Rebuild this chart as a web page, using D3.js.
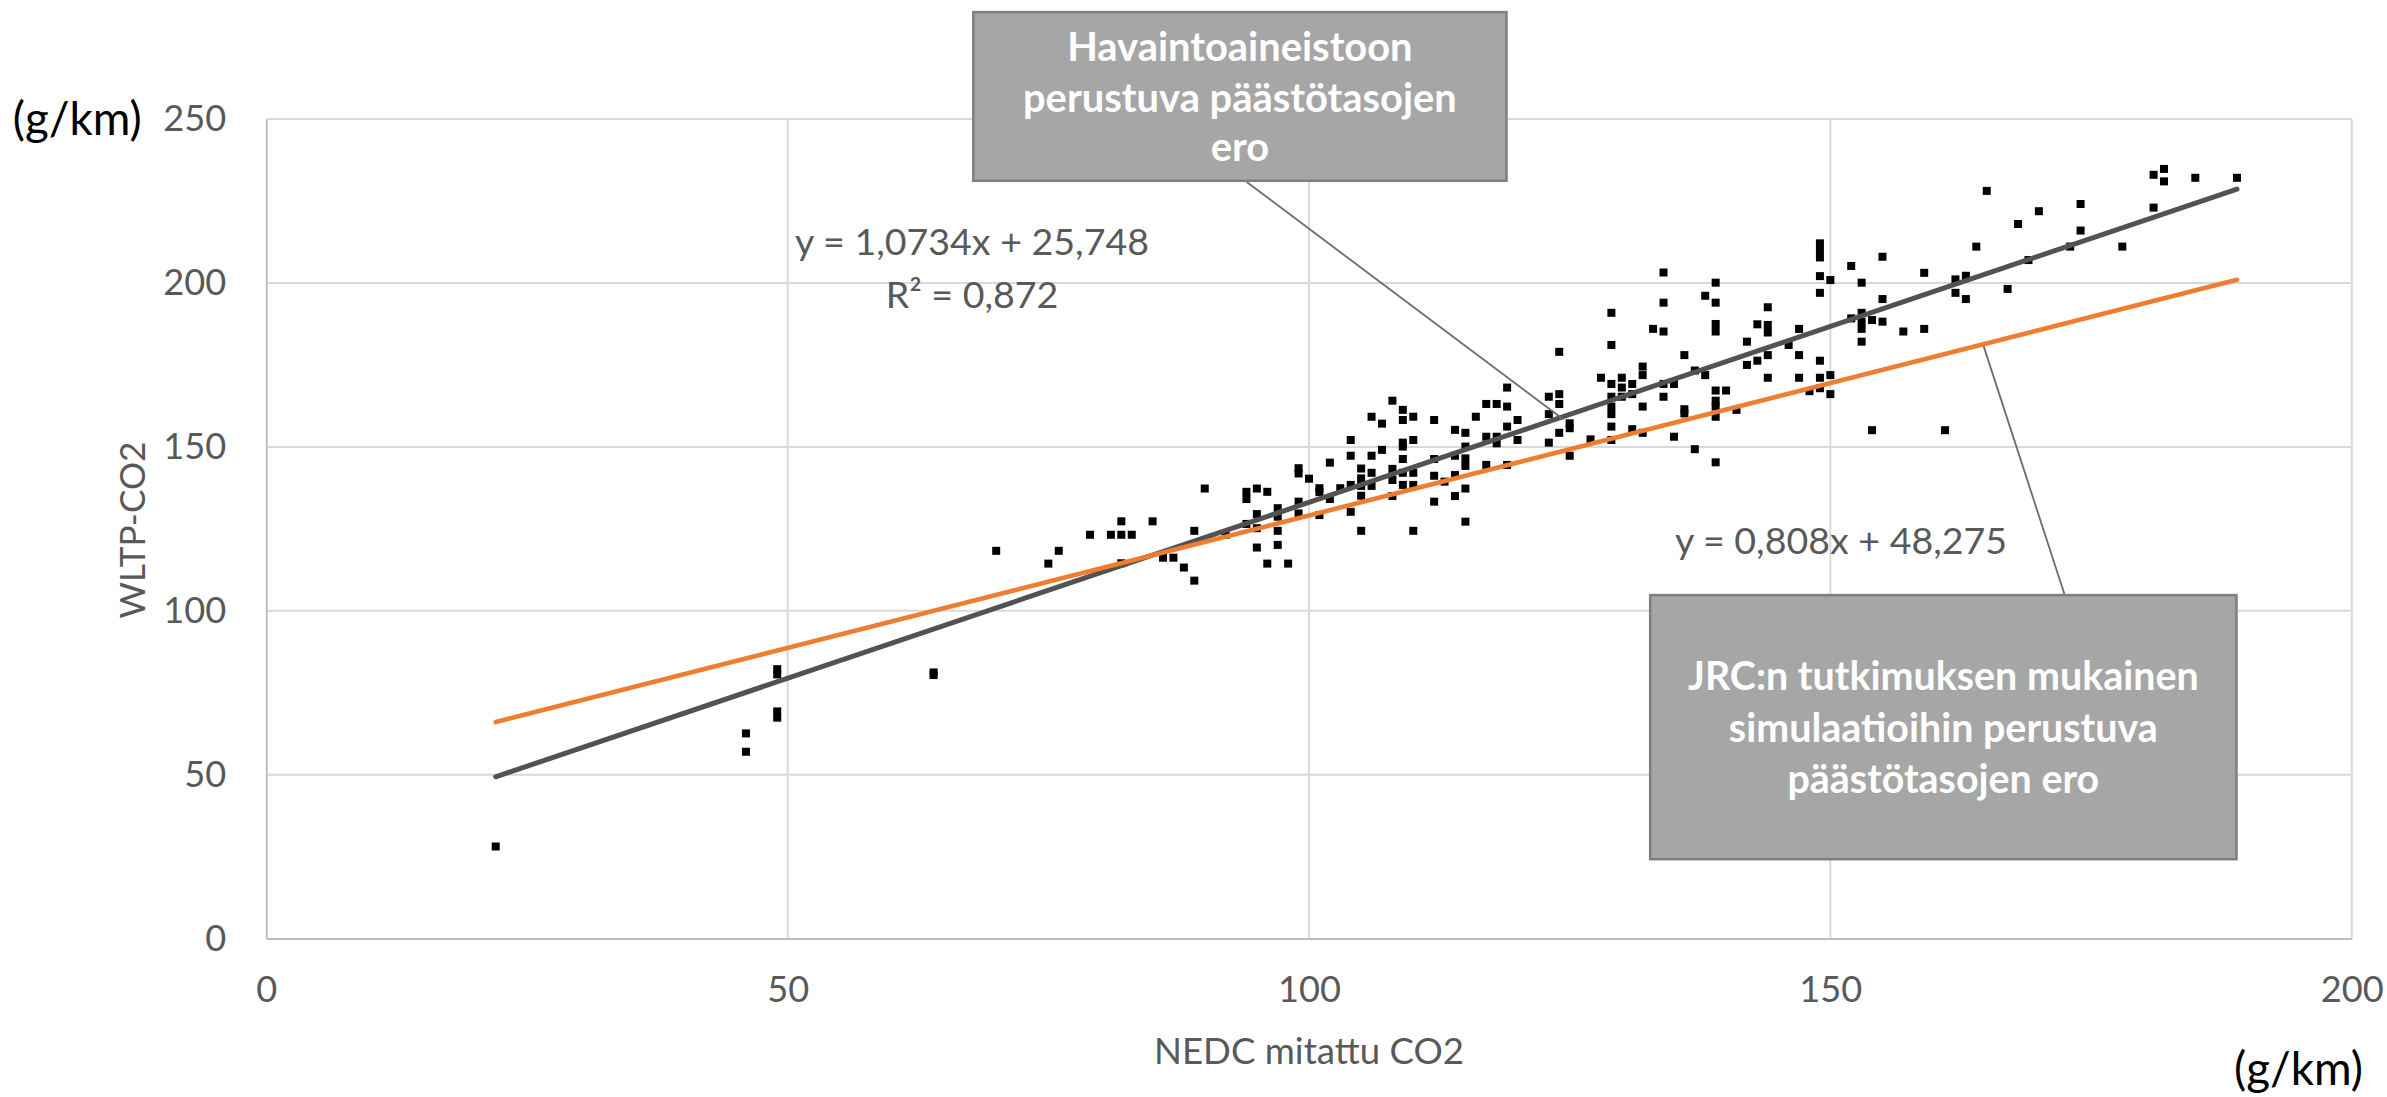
<!DOCTYPE html>
<html>
<head>
<meta charset="utf-8">
<script src="https://cdn.jsdelivr.net/npm/d3@7"></script>
<style>
  html, body { margin: 0; padding: 0; background: #ffffff; }
  svg { display: block; }
</style>
</head>
<body>
<svg id="chart" width="2387" height="1097"></svg>
<script>
// ---------------- DATA ----------------
const xTicks = [0, 50, 100, 150, 200];
const yTicks = [0, 50, 100, 150, 200, 250];

const nedc = [
  22,
  46, 46,
  49, 49, 49, 49,
  64, 64,
  70, 75, 76, 79, 81, 82, 82, 83, 85, 82,
  86, 87, 88, 89, 89, 90, 92,
  94, 94, 94, 95, 96, 95, 95, 95, 96,
  97, 97, 97, 97, 98,
  99, 99, 99, 99,
  100,
  101, 101, 101,
  102, 102,
  103,
  104, 104, 104, 104,
  105, 105, 105, 105, 105,
  106, 106, 106, 106,
  107, 107,
  108, 108, 108, 108,
  109, 109, 109, 109, 109, 109, 109,
  110, 110, 110, 110, 110,
  112, 112, 112, 112,
  113,
  114, 114, 114, 114,
  115, 115, 115, 115, 115, 115,
  116,
  117, 117, 117,
  118, 118, 118,
  119, 119, 119, 119,
  120, 120,
  123, 123, 123,
  124, 124, 124, 124,
  125, 125, 125,
  127,
  128,
  129, 129, 129, 129, 129, 129, 129, 129,
  130, 130, 130,
  131, 131, 131,
  132, 132, 132, 132,
  133,
  134, 134, 134, 134, 134,
  135, 135,
  136, 136, 136,
  137, 137,
  138, 138,
  139, 139, 139, 139, 139, 139, 139, 139, 139,
  140,
  141,
  142, 142,
  143, 143,
  144, 144, 144, 144, 144,
  146,
  147, 147, 147,
  148,
  149, 149, 149, 149, 149, 149, 149, 149,
  150, 150, 150,
  152, 152,
  153, 153, 153, 153, 153,
  154, 154,
  155, 155, 155,
  157,
  159, 159,
  161,
  162, 162,
  163, 163,
  164,
  165,
  167,
  168,
  169,
  170,
  173,
  174, 174,
  178,
  181, 181,
  182, 182,
  185,
  189
];

const wltp = [
  28.1,
  62.6, 57,
  82.2, 80.6, 69.3, 67.4,
  81.2, 80.4,
  118.3, 114.4, 118.3, 123.2, 123.2, 123.2, 127.3, 123.2, 127.3, 114.5,
  116.2, 116.2, 113.2, 109.2, 124.4, 137.3, 123.2,
  136.3, 134.1, 126.5, 137.3, 136.3, 129.5, 125.2, 119.3, 114.4,
  131.3, 128.7, 124.4, 120.1, 114.4,
  143.5, 141.9, 133.3, 129.7,
  140.3,
  137.4, 136.2, 129.2,
  145.2, 134.1,
  137.4,
  152.1, 147.3, 138.4, 130.2,
  143.4, 140.4, 138.1, 135.1, 124.4,
  159.2, 147.3, 142.1, 138.1,
  157.1, 149.1,
  164.1, 143.3, 139.9, 135.0,
  161.3, 158.2, 151.3, 150.1, 146.3, 142.1, 138.4,
  159.2, 152.1, 142.1, 138.4, 124.4,
  158.2, 146.3, 141.2, 133.3,
  139.4,
  155.2, 147.3, 141.4, 135.0,
  154.3, 150.1, 146.5, 144.2, 137.3, 127.2,
  159.2,
  163.1, 153.1, 144.5,
  163.1, 153.1, 151.1,
  168.1, 162.3, 156.2, 144.5,
  158.2, 152.1,
  165.3, 160.0, 151.3,
  179.0, 166.1, 163.1, 154.3,
  157.2, 155.7, 147.3,
  152.3,
  171.1,
  190.9, 181.1, 169.2, 165.3, 162.3, 160.0, 156.2, 152.1,
  171.1, 168.1, 165.3,
  169.2, 166.1, 155.4,
  174.5, 171.9, 162.3, 154.3,
  186.0,
  203.2, 194.0, 185.2, 169.2, 165.3,
  169.2, 153.1,
  178.0, 161.5, 160.2,
  173.3, 149.3,
  196.1, 171.9,
  200.1, 194.0, 187.5, 185.2, 167.2, 164.1, 162.3, 159.2, 145.3,
  167.2,
  161.3,
  182.1, 175.0,
  187.4, 176.3,
  192.6, 187.2, 184.9, 178.0, 171.1,
  181.1,
  186.0, 178.0, 171.1,
  167.0,
  212.1, 210.0, 207.8, 202.1, 197.0, 176.3, 171.1, 167.9,
  200.9, 171.9, 166.1,
  205.2, 189.2,
  200.1, 190.9, 188.2, 186.0, 182.1,
  188.7, 155.1,
  208.0, 195.1, 188.2,
  185.2,
  203.1, 186.0,
  155.1,
  201.1, 197.0,
  202.2, 195.1,
  211.1,
  228.1,
  198.2,
  218.0,
  207.0,
  221.9,
  211.1,
  224.1, 216.0,
  211.1,
  233.0, 223.0,
  234.8, 231.0,
  232.1,
  232.1
];

// Trend lines: observed data fit and JRC simulation-based relation
const trendNames = ["observed", "jrc"];
const trendSlopes = [1.0734, 0.808];
const trendIntercepts = [25.748, 48.275];
const trendLabels = ["y = 1,0734x + 25,748", "y = 0,808x + 48,275"];
const r2Label = "R² = 0,872";

const xTitle = "NEDC mitattu CO2";
const yTitle = "WLTP-CO2";
const unitLabel = "(g/km)";
const box1Lines = ["Havaintoaineistoon", "perustuva päästötasojen", "ero"];
const box2Lines = ["JRC:n tutkimuksen mukainen", "simulaatioihin perustuva", "päästötasojen ero"];

// ---------------- LAYOUT ----------------
const W = 2387, H = 1097;
const plot = { left: 266.3, right: 2351.7, top: 119.1, bottom: 938.6 };
const FONT = "Lato, Carlito, Calibri, 'Open Sans', sans-serif";
const GRID = "#D9D9D9", AXIS = "#BFBFBF", TXT = "#595959";
const lineColors = ["#525252", "#ED7D31"];

const svg = d3.select("#chart");
svg.append("rect").attr("width", W).attr("height", H).attr("fill", "#ffffff");

const x = d3.scaleLinear().domain([0, 200]).range([plot.left, plot.right]);
const y = d3.scaleLinear().domain([0, 250]).range([plot.bottom, plot.top]);

// font size fitting helper (size chosen so text width matches the reference)
const meas = svg.append("text").attr("font-family", FONT).attr("font-size", 100).attr("x", -9999).attr("y", -9999);
function fit(text, width, weight) {
  meas.attr("font-weight", weight || "normal").text(text);
  const w = meas.node().getComputedTextLength();
  return w > 0 ? 100 * width / w : 36;
}

// gridlines
const gGrid = svg.append("g");
gGrid.selectAll("line.h").data(yTicks.filter(d => d > 0)).join("line")
  .attr("x1", plot.left).attr("x2", plot.right)
  .attr("y1", d => y(d)).attr("y2", d => y(d))
  .attr("stroke", GRID).attr("stroke-width", 2);
gGrid.selectAll("line.v").data(xTicks.filter(d => d > 0)).join("line")
  .attr("x1", d => x(d)).attr("x2", d => x(d))
  .attr("y1", plot.top).attr("y2", plot.bottom)
  .attr("stroke", GRID).attr("stroke-width", 2);

// axes with d3 axis generators
const tickSize = fit("250", 63);
const yAxis = svg.append("g").attr("transform", `translate(${plot.left},0)`)
  .call(d3.axisLeft(y).tickValues(yTicks).tickSize(0).tickPadding(40).tickFormat(d3.format("d")));
const xAxis = svg.append("g").attr("transform", `translate(0,${plot.bottom})`)
  .call(d3.axisBottom(x).tickValues(xTicks).tickSize(0).tickPadding(38).tickFormat(d3.format("d")));
[xAxis, yAxis].forEach(a => {
  a.select(".domain").attr("stroke", AXIS).attr("stroke-width", 2);
  a.selectAll("text").attr("font-family", FONT).attr("font-size", tickSize).attr("fill", TXT);
});
xAxis.selectAll("text").attr("dy", "0.71em");

// scatter markers
const pts = nedc.map((v, i) => [v, wltp[i]]);
const ms = 8;
svg.append("g").selectAll("rect").data(pts).join("rect")
  .attr("x", d => x(d[0]) - ms / 2).attr("y", d => y(d[1]) - ms / 2)
  .attr("width", ms).attr("height", ms).attr("fill", "#000000");

// trend lines over the data range
const xMin = d3.min(nedc), xMax = d3.max(nedc);
const lineGen = d3.line().x(d => x(d[0])).y(d => y(d[1]));
trendNames.forEach((name, i) => {
  const f = v => trendSlopes[i] * v + trendIntercepts[i];
  svg.append("path").datum([[xMin, f(xMin)], [xMax, f(xMax)]])
    .attr("d", lineGen).attr("fill", "none")
    .attr("stroke", lineColors[i]).attr("stroke-width", i === 0 ? 5 : 4.6).attr("stroke-linecap", "round");
});

// equation labels
const eqSize = fit(trendLabels[0], 354);
svg.append("text").attr("x", 972).attr("y", 254.5).attr("text-anchor", "middle")
  .attr("font-family", FONT).attr("font-size", eqSize).attr("fill", TXT).text(trendLabels[0]);
svg.append("text").attr("x", 972).attr("y", 307.8).attr("text-anchor", "middle")
  .attr("font-family", FONT).attr("font-size", eqSize).attr("fill", TXT).text(r2Label);
svg.append("text").attr("x", 1841).attr("y", 553.5).attr("text-anchor", "middle")
  .attr("font-family", FONT).attr("font-size", eqSize).attr("fill", TXT).text(trendLabels[1]);

// callout leader lines (anchored to the trend lines in data space)
const anchor1X = 124.4, anchor2X = 164.7;
const a1 = [x(anchor1X), y(trendSlopes[0] * anchor1X + trendIntercepts[0]) + 3];
const a2 = [x(anchor2X), y(trendSlopes[1] * anchor2X + trendIntercepts[1]) + 2];
svg.append("line").attr("x1", 1246.7).attr("y1", 182).attr("x2", a1[0]).attr("y2", a1[1])
  .attr("stroke", "#6B6B6B").attr("stroke-width", 1.8);
svg.append("line").attr("x1", 2064.4).attr("y1", 594).attr("x2", a2[0]).attr("y2", a2[1])
  .attr("stroke", "#6B6B6B").attr("stroke-width", 1.8);

// callout boxes
function callout(bx, by, bw, bh, lines, baselines, widestIdx, widestW) {
  svg.append("rect").attr("x", bx).attr("y", by).attr("width", bw).attr("height", bh)
    .attr("fill", "#A6A6A6").attr("stroke", "#7F7F7F").attr("stroke-width", 2.5);
  const fs = fit(lines[widestIdx], widestW, "bold");
  lines.forEach((t, i) => {
    svg.append("text").attr("x", bx + bw / 2).attr("y", baselines[i]).attr("text-anchor", "middle")
      .attr("font-family", FONT).attr("font-weight", "bold").attr("font-size", fs)
      .attr("fill", "#FFFFFF").text(t);
  });
}
callout(973.3, 12.1, 533.2, 168.7, box1Lines, [60.6, 111.5, 161], 1, 434);
callout(1650.2, 595.1, 586.3, 264.1, box2Lines, [690, 741.7, 793], 0, 511);

// axis titles
const titleSize = fit(xTitle, 310);
svg.append("text").attr("x", (plot.left + plot.right) / 2).attr("y", 1064.4).attr("text-anchor", "middle")
  .attr("font-family", FONT).attr("font-size", titleSize).attr("fill", TXT).text(xTitle);
svg.append("text").attr("transform", "translate(145,530) rotate(-90)").attr("text-anchor", "middle")
  .attr("font-family", FONT).attr("font-size", fit(yTitle, 177)).attr("fill", TXT).text(yTitle);

// unit labels
const unitSize = fit(unitLabel, 129);
svg.append("text").attr("x", 12.8).attr("y", 135).attr("font-family", FONT).attr("font-size", unitSize)
  .attr("fill", "#000000").text(unitLabel);
svg.append("text").attr("x", 2363).attr("y", 1085).attr("text-anchor", "end").attr("font-family", FONT)
  .attr("font-size", unitSize).attr("fill", "#000000").text(unitLabel);

meas.remove();
</script>
</body>
</html>
